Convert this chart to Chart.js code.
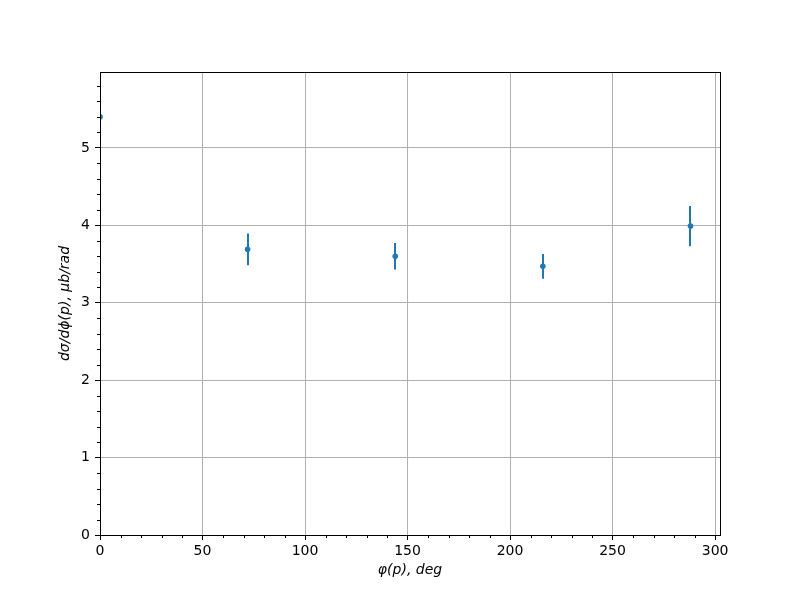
<!DOCTYPE html>
<html><head><meta charset="utf-8">
<script src="https://cdn.jsdelivr.net/npm/chart.js@4"></script>
<style>html,body{margin:0;padding:0;background:#fff}#c{display:block}</style>
</head><body>
<canvas id="c" width="800" height="600"></canvas>
<script>
const phiDeg = [0, 72, 144, 216, 288];
const dsigma = [5.40, 3.69, 3.60, 3.47, 3.99];
const dsigmaErr = [0.05, 0.205, 0.17, 0.16, 0.26];
const xTicks = [0, 50, 100, 150, 200, 250, 300];
const yTicks = [0, 1, 2, 3, 4, 5];
const xLabel = 'φ(p), deg';
const yLabel = 'dσ/dϕ(p), μb/rad';

const COLOR = '#1f77b4';
const FONT = 'DejaVu Sans';

const extras = {
  id: 'extras',
  afterDatasetsDraw(chart) {
    const ctx = chart.ctx, xs = chart.scales.x, ys = chart.scales.y, a = chart.chartArea;
    ctx.save();
    ctx.beginPath(); ctx.rect(a.left, a.top, a.right - a.left, a.bottom - a.top); ctx.clip();
    ctx.strokeStyle = COLOR; ctx.lineWidth = 2;
    phiDeg.forEach((x, i) => {
      const px = Math.round(xs.getPixelForValue(x));
      ctx.beginPath();
      ctx.moveTo(px, ys.getPixelForValue(dsigma[i] - dsigmaErr[i]));
      ctx.lineTo(px, ys.getPixelForValue(dsigma[i] + dsigmaErr[i]));
      ctx.stroke();
    });
    ctx.restore();
  },
  afterDraw(chart) {
    const ctx = chart.ctx, xs = chart.scales.x, ys = chart.scales.y, a = chart.chartArea;
    ctx.save();
    ctx.strokeStyle = '#000'; ctx.lineWidth = 1;
    for (let v = 0; v <= xs.max; v += 10) {
      if (v % 50 === 0) continue;
      const px = Math.round(xs.getPixelForValue(v)) + 0.5;
      ctx.beginPath(); ctx.moveTo(px, a.bottom); ctx.lineTo(px, a.bottom + 3); ctx.stroke();
    }
    for (let k = 0; k * 0.2 <= ys.max; k++) {
      if (k % 5 === 0) continue;
      const py = Math.round(ys.getPixelForValue(k * 0.2)) + 0.5;
      ctx.beginPath(); ctx.moveTo(a.left, py); ctx.lineTo(a.left - 3, py); ctx.stroke();
    }
    ctx.strokeRect(Math.round(a.left) + 0.5, Math.round(a.top) + 0.5, Math.round(a.right - a.left), Math.round(a.bottom - a.top));
    ctx.restore();
  }
};

new Chart(document.getElementById('c'), {
  type: 'scatter',
  data: {
    datasets: [{
      data: phiDeg.map((x, i) => ({x, y: dsigma[i]})),
      backgroundColor: COLOR, borderColor: COLOR,
      pointRadius: 2.8, pointHoverRadius: 2.8, borderWidth: 0,
      clip: 0
    }]
  },
  options: {
    responsive: false, animation: false,
    layout: {padding: {left: 0, top: 72, right: 80, bottom: 0}},
    plugins: {legend: {display: false}, tooltip: {enabled: false}},
    scales: {
      x: {
        type: 'linear', min: 0, max: 302.4,
        afterBuildTicks: s => { s.ticks = xTicks.map(v => ({value: v})); },
        afterFit: s => { s.height = 65; },
        ticks: {color: '#000', font: {family: FONT, size: 14}, padding: 3, maxRotation: 0},
        grid: {color: '#b0b0b0', tickColor: '#000', tickLength: 5, lineWidth: 1},
        border: {color: '#000'},
        title: {display: true, text: xLabel, color: '#000', font: {family: FONT, size: 14, style: 'italic'}, padding: {top: 0, bottom: 21}}
      },
      y: {
        type: 'linear', min: 0, max: 5.98,
        afterBuildTicks: s => { s.ticks = yTicks.map(v => ({value: v})); },
        afterFit: s => { s.width = 100; },
        ticks: {color: '#000', font: {family: FONT, size: 14}, padding: 5},
        grid: {color: '#b0b0b0', tickColor: '#000', tickLength: 5, lineWidth: 1},
        border: {color: '#000'},
        title: {display: true, text: yLabel, color: '#000', font: {family: FONT, size: 14, style: 'italic'}, padding: {top: 57, bottom: 0}}
      }
    }
  },
  plugins: [extras]
});
</script>
</body></html>
